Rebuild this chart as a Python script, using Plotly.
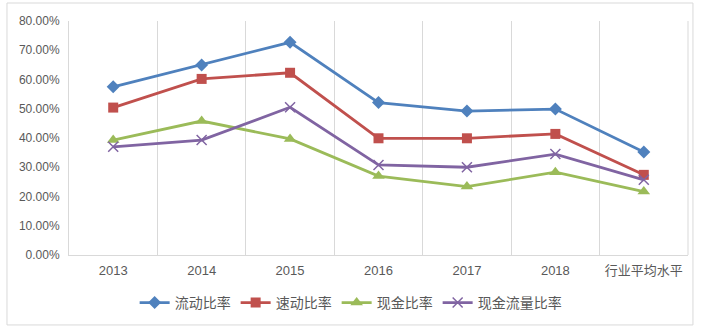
import plotly.graph_objects as go

categories = ["2013", "2014", "2015", "2016", "2017", "2018", "行业平均水平"]
series_names = ["流动比率", "速动比率", "现金比率", "现金流量比率"]
current_ratio = [0.575, 0.650, 0.727, 0.521, 0.492, 0.499, 0.352]
quick_ratio = [0.504, 0.602, 0.623, 0.399, 0.399, 0.414, 0.274]
cash_ratio = [0.393, 0.458, 0.397, 0.270, 0.234, 0.283, 0.217]
cash_flow_ratio = [0.370, 0.393, 0.505, 0.308, 0.300, 0.345, 0.257]

colors = ["#4F81BD", "#C0504D", "#9BBB59", "#8064A2"]
symbols = ["diamond", "square", "triangle-up", "x-thin-open"]
sizes = [10, 10, 11, 10]
values = [current_ratio, quick_ratio, cash_ratio, cash_flow_ratio]

fig = go.Figure()
for name, vals, c, s, sz in zip(series_names, values, colors, symbols, sizes):
    marker = dict(symbol=s, size=sz, color=c)
    if s == "x-thin-open":
        marker["line"] = dict(color=c, width=1.5)
    fig.add_trace(go.Scatter(
        x=categories, y=vals, name=name, mode="lines+markers",
        line=dict(color=c, width=2.8), marker=marker,
        hoverinfo="skip"))

font_family = "Liberation Sans, Arial, Noto Sans CJK SC, sans-serif"

fig.update_layout(
    width=712, height=331,
    margin=dict(l=69, r=24, t=21, b=76),
    paper_bgcolor="white", plot_bgcolor="white",
    font=dict(family=font_family, color="#595959", size=12),
    showlegend=True,
    legend=dict(orientation="h", x=0.455, xanchor="center", y=-0.205, yanchor="middle",
                font=dict(size=14, color="#595959"), itemwidth=30,
                tracegroupgap=0),
    xaxis=dict(
        type="category", range=[-0.5, 6.5], tickson="boundaries",
        showgrid=True, gridcolor="#D9D9D9", gridwidth=1,
        showline=True, linecolor="#D9D9D9", linewidth=1,
        ticks="", ticklabelstandoff=3, tickfont=dict(size=13, color="#595959"),
        fixedrange=True, zeroline=False,
    ),
    yaxis=dict(
        range=[0, 0.8], dtick=0.1, tickformat=".2%",
        showgrid=False, showline=True, linecolor="#D9D9D9", linewidth=1,
        ticks="", ticklabelstandoff=6, tickfont=dict(size=12, color="#595959"),
        zeroline=False, fixedrange=True,
    ),
    shapes=[
        dict(type="rect", xref="paper", yref="paper",
             x0=-0.1002, x1=1.008, y0=-0.299, y1=1.0769,
             line=dict(color="#D9D9D9", width=1), fillcolor="rgba(0,0,0,0)",
             layer="below"),
        dict(type="line", xref="paper", yref="paper", x0=1, x1=1, y0=0, y1=1,
             line=dict(color="#D9D9D9", width=1)),
    ],
)

fig.write_html("out.html")
